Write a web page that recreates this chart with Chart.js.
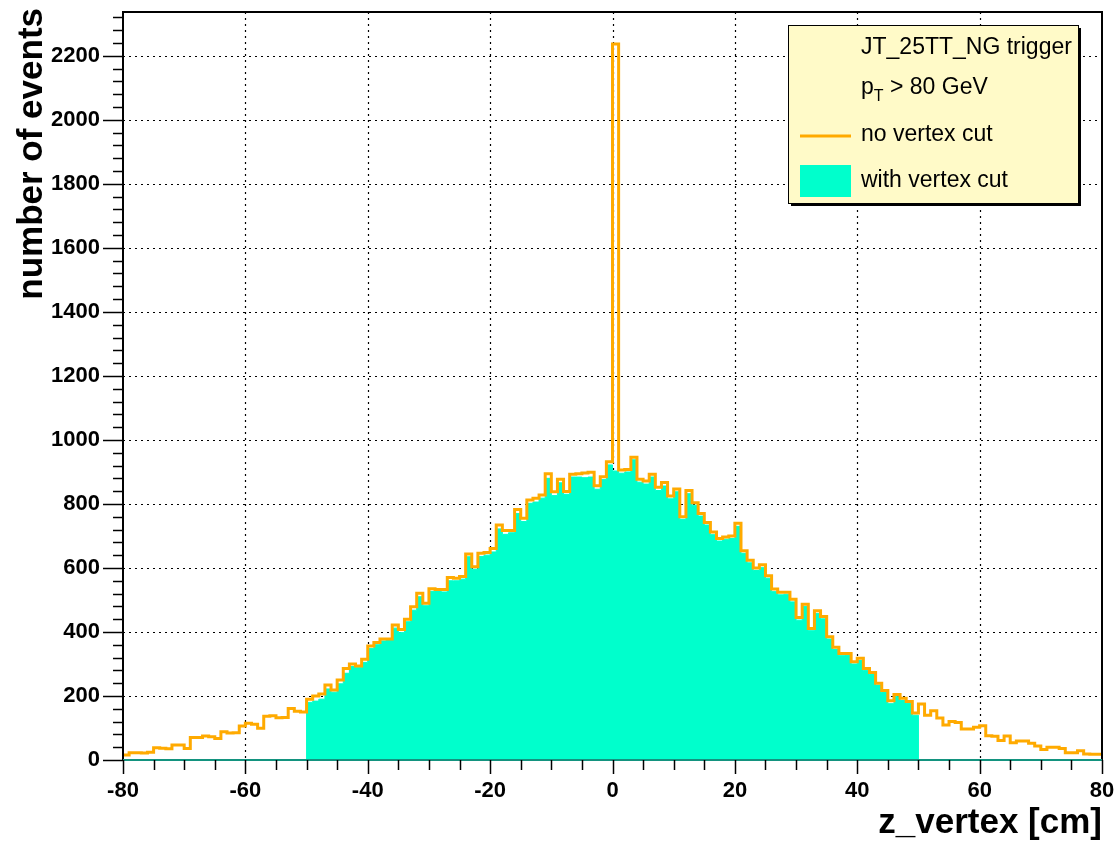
<!DOCTYPE html>
<html lang="en">
<head>
  <meta charset="UTF-8">
  <title>z_vertex distribution</title>
  <script src="https://cdn.jsdelivr.net/npm/chart.js"></script>
  <style>
    html, body { margin: 0; padding: 0; background: #fff; }
    #myChart { display: block; }
  </style>
</head>
<body>
  <canvas id="myChart" width="1117" height="844"></canvas>

  <script>
    // histogram binning (1 cm bins from -80 to 80)
    const xMin = -80;
    const xMax = 80;
    const binWidth = 1;
    const yMax = 2337;

    // no vertex cut, bins -80..79
    const noCut = [
      16, 23, 23, 22, 24, 38, 37, 35, 47, 47,
      36, 70, 70, 75, 73, 67, 88, 84, 85, 106,
      115, 112, 99, 137, 138, 132, 133, 161, 152, 150,
      190, 200, 206, 234, 219, 250, 286, 300, 294, 315,
      356, 367, 378, 378, 422, 408, 440, 479, 521, 490,
      535, 533, 533, 570, 568, 573, 644, 604, 646, 648,
      661, 734, 717, 717, 783, 755, 812, 818, 828, 894,
      838, 877, 839, 893, 894, 897, 899, 857, 885, 932,
      2237, 906, 908, 946, 877, 872, 893, 852, 867, 825,
      847, 760, 842, 804, 770, 742, 712, 692, 697, 700,
      740, 654, 624, 600, 610, 576, 534, 524, 524, 502,
      445, 487, 411, 466, 448, 385, 352, 333, 333, 307,
      318, 286, 273, 240, 217, 185, 205, 193, 183, 147,
      175, 140, 154, 131, 109, 120, 117, 97, 97, 102,
      107, 76, 74, 61, 75, 54, 59, 59, 52, 44,
      33, 40, 40, 36, 23, 23, 29, 19, 18, 18
    ];

    // with vertex cut (|z| < 50 cm), bins -80..79
    const withCut = [
      0, 0, 0, 0, 0, 0, 0, 0, 0, 0,
      0, 0, 0, 0, 0, 0, 0, 0, 0, 0,
      0, 0, 0, 0, 0, 0, 0, 0, 0, 0,
      180, 184, 190, 222, 212, 238, 271, 292, 290, 305,
      348, 360, 372, 375, 412, 398, 432, 468, 510, 482,
      527, 528, 525, 560, 560, 565, 635, 596, 636, 640,
      650, 722, 705, 710, 770, 745, 802, 806, 818, 880,
      826, 866, 830, 884, 884, 882, 884, 846, 876, 922,
      903, 896, 900, 938, 868, 862, 884, 842, 856, 816,
      838, 752, 832, 796, 762, 734, 704, 684, 690, 692,
      730, 646, 616, 592, 601, 568, 526, 516, 518, 494,
      437, 480, 404, 458, 441, 378, 345, 326, 327, 300,
      311, 280, 267, 234, 211, 176, 198, 186, 177, 140,
      0, 0, 0, 0, 0, 0, 0, 0, 0, 0,
      0, 0, 0, 0, 0, 0, 0, 0, 0, 0,
      0, 0, 0, 0, 0, 0, 0, 0, 0, 0
    ];

    const legendLines = ['JT_25TT_NG trigger', 'no vertex cut', 'with vertex cut'];
    const xTitle = 'z_vertex [cm]';
    const yTitle = 'number of events';

    const ORANGE = '#ffaa00';
    const TEAL = '#00ffcc';
    const FONT = '"Liberation Sans", Arial, Helvetica, sans-serif';

    // bin contents -> step points at the bin edges
    function toSteps(values) {
      const pts = [];
      for (let i = 0; i <= values.length; i++) {
        pts.push({ x: xMin + i * binWidth, y: values[Math.min(i, values.length - 1)] });
      }
      return pts;
    }

    // ROOT style frame, dotted grid, ticks, titles and legend
    const rootStyle = {
      id: 'rootStyle',
      beforeDatasetsDraw(chart) {
        const { ctx, chartArea: a, scales: { x, y } } = chart;
        ctx.save();
        ctx.strokeStyle = '#000';
        ctx.lineWidth = 1.2;
        ctx.setLineDash([2, 4]);
        x.ticks.forEach(t => {
          if (t.value <= xMin || t.value >= xMax) return;
          const px = Math.round(x.getPixelForValue(t.value)) + 0.5;
          ctx.beginPath(); ctx.moveTo(px, a.top); ctx.lineTo(px, a.bottom); ctx.stroke();
        });
        y.ticks.forEach(t => {
          if (t.value <= 0) return;
          const py = Math.round(y.getPixelForValue(t.value)) + 0.5;
          ctx.beginPath(); ctx.moveTo(a.left, py); ctx.lineTo(a.right, py); ctx.stroke();
        });
        ctx.restore();
      },
      afterDatasetsDraw(chart) {
        const { ctx, chartArea: a, scales: { x, y } } = chart;
        ctx.save();
        ctx.strokeStyle = '#000';
        ctx.lineWidth = 2;
        ctx.strokeRect(a.left, a.top, a.right - a.left, a.bottom - a.top);
        // zero line of the cut histogram lies on the bottom of the frame
        ctx.strokeStyle = '#13937f';
        ctx.beginPath(); ctx.moveTo(a.left, a.bottom); ctx.lineTo(a.right, a.bottom); ctx.stroke();

        ctx.strokeStyle = '#000';
        ctx.lineWidth = 1.5;
        // y ticks, outside the frame
        for (let v = 0; v <= yMax; v += 40) {
          const py = Math.round(y.getPixelForValue(v)) + 0.5;
          const len = v % 200 === 0 ? 20 : 10;
          ctx.beginPath(); ctx.moveTo(a.left - len, py); ctx.lineTo(a.left, py); ctx.stroke();
        }
        // x ticks, below the frame
        for (let v = xMin; v <= xMax; v += 5) {
          const px = Math.round(x.getPixelForValue(v)) + 0.5;
          const len = v % 20 === 0 ? 14 : 10;
          ctx.beginPath(); ctx.moveTo(px, a.bottom); ctx.lineTo(px, a.bottom + len); ctx.stroke();
        }

        // axis titles
        ctx.fillStyle = '#000';
        ctx.font = 'bold 35px ' + FONT;
        ctx.textAlign = 'right';
        ctx.textBaseline = 'alphabetic';
        ctx.fillText(xTitle, a.right, 833);
        ctx.save();
        ctx.translate(42, 8);
        ctx.rotate(-Math.PI / 2);
        ctx.fillText(yTitle, 0, 0);
        ctx.restore();
        ctx.restore();
      },
      afterDraw(chart) {
        const ctx = chart.ctx;
        const bx = 788, by = 25, bw = 290, bh = 178;
        ctx.save();
        ctx.fillStyle = '#000';
        ctx.fillRect(bx + 3, by + 3, bw, bh);
        ctx.fillStyle = '#fffac8';
        ctx.fillRect(bx, by, bw, bh);
        ctx.strokeStyle = '#000';
        ctx.lineWidth = 1;
        ctx.strokeRect(bx + 0.5, by + 0.5, bw, bh);

        ctx.fillStyle = '#000';
        ctx.font = '23px ' + FONT;
        ctx.textAlign = 'left';
        ctx.textBaseline = 'middle';
        const tx = 861;
        ctx.fillText(legendLines[0], tx, 48);
        // p_T > 80 GeV with subscript
        ctx.fillText('p', tx, 88);
        const pw = ctx.measureText('p').width;
        ctx.font = '16px ' + FONT;
        ctx.fillText('T', tx + pw, 97);
        const tw = ctx.measureText('T').width;
        ctx.font = '23px ' + FONT;
        ctx.fillText(' > 80 GeV', tx + pw + tw, 88);

        ctx.strokeStyle = ORANGE;
        ctx.lineWidth = 3;
        ctx.beginPath(); ctx.moveTo(800, 136); ctx.lineTo(851, 136); ctx.stroke();
        ctx.fillText(legendLines[1], tx, 135);

        ctx.fillStyle = TEAL;
        ctx.fillRect(800, 165, 51, 32);
        ctx.fillStyle = '#000';
        ctx.fillText(legendLines[2], tx, 181);
        ctx.restore();
      }
    };

    const ctx = document.getElementById('myChart').getContext('2d');
    const myChart = new Chart(ctx, {
      type: 'line',
      data: {
        datasets: [
          {
            label: legendLines[1],
            data: toSteps(noCut),
            stepped: 'before',
            borderColor: ORANGE,
            borderWidth: 3,
            pointRadius: 0,
            fill: false,
            order: 0
          },
          {
            label: legendLines[2],
            data: toSteps(withCut),
            stepped: 'before',
            borderColor: TEAL,
            borderWidth: 1,
            backgroundColor: TEAL,
            pointRadius: 0,
            fill: 'origin',
            order: 1
          }
        ]
      },
      options: {
        responsive: false,
        animation: false,
        devicePixelRatio: 1,
        layout: { padding: { top: 12, right: 15, left: 0, bottom: 0 } },
        plugins: { legend: { display: false }, tooltip: { enabled: false } },
        scales: {
          x: {
            type: 'linear',
            min: xMin,
            max: xMax,
            grid: { display: false, drawTicks: false },
            border: { display: false },
            ticks: {
              stepSize: 20,
              color: '#000',
              padding: 18,
              maxRotation: 0,
              callback: v => String(v),
              font: { family: FONT, size: 22, weight: 'bold' }
            },
            afterFit: s => {
              s.height = 84;
              s.paddingLeft = 0; s.paddingRight = 0;
            }
          },
          y: {
            min: 0,
            max: yMax,
            grid: { display: false, drawTicks: false },
            border: { display: false },
            ticks: {
              stepSize: 200,
              includeBounds: false,
              color: '#000',
              padding: 23,
              callback: v => String(v),
              font: { family: FONT, size: 22, weight: 'bold' }
            },
            afterFit: s => {
              s.width = 123;
              s.paddingTop = 0; s.paddingBottom = 0;
            }
          }
        }
      },
      plugins: [rootStyle]
    });
  </script>
</body>
</html>
